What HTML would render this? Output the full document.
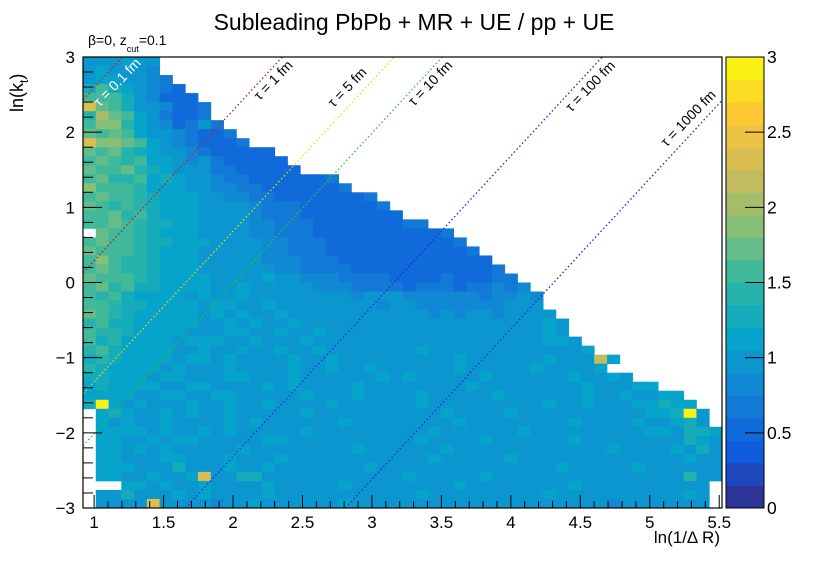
<!DOCTYPE html>
<html><head><meta charset="utf-8"><style>
html,body{margin:0;padding:0;background:#fff;}
svg{display:block;font-family:"Liberation Sans",sans-serif;}
</style></head><body>
<svg id="chart" width="830" height="563" viewBox="0 0 830 563">
<text x="414" y="30" text-anchor="middle" font-size="23">Subleading PbPb + MR + UE / pp + UE</text>
<text x="88" y="45" font-size="14">β=0, z<tspan dy="7" font-size="9">cut</tspan><tspan dy="-7">=0.1</tspan></text>
<text transform="translate(23,112) rotate(-90)" font-size="18">ln(k<tspan dy="5" font-size="12">t</tspan><tspan dy="-5">)</tspan></text>
<text x="720" y="543" text-anchor="end" font-size="17">ln(1/Δ R)</text>
<g id="cells"></g>
<g id="lines"></g>
<g id="axes"></g>
<g id="cbar"></g>
</svg>
<script>
// heatmap rows, top (ln kt = 3) to bottom (ln kt = -3); char index /10 = value; '.' = empty
const codeChars = "0123456789ABCDEFGHIJKLMNOPQRSTU";
const rowCodes = [
"9AAB99",
"AB9A98",
"ACBA987",
"DFDB9876",
"FGFDA8666",
"NHGD998667",
"EKHFB97667",
"GIJEC9867A7",
"HGHFCA987667",
"OIIHFC9876667",
"HFHEDCA98766656",
"GHFEGCB989766665",
"HGGHEDBA9A7766656",
"FHEEFCDBA98776655667",
"IFGFECCBA988776656567",
"GHFGEDCBBA9887766655667",
"HGEFEDCCBA9A987776666567",
"FGHEFDCCBAA99877766665566",
"GFHFEDDCBAA9988777666656677",
".HFGEDCCBAA998877766665666657",
"GHGFEDDCBBA9998877766656666667",
"HGFFEDCCBAA99988777666656666667",
"FIGEEDCBBAAA99888777666665666666",
"GHFEEDCCBAAA999887777666665666667",
"HGGFEDCCBBAA9AB9988877776666766677",
"FHEFDDCBCBAAB9AA9988877776777677878",
"GEFDCCBCABAABAA9A9A99899988888878898",
"FGEDDCCBCABBAAB9AA9A99989988888889A9",
"HFEDCCCBBACABAABAA9A999A9998989989A99",
"EFDDCCBCBAABACAABAA9AA9A99999999A9AAC9",
"GEEDCBBCAAABBAACAABA9AAA99A9999AAA99BA",
"FDECCBBABCBAABAAABAAAAAA9AAAA9AAAAA9BCA",
"EFDCCBCAABAABAACAABAA9AAAABAAAAAA9AAAAAC",
"DEDCBBBACBABAAAACAABAAAA9AAAABAAAAAABAAALC",
"EDCCBCABAAABAAAABAABAACA9AAAABAAAAABAAAAC",
"DDCBBACBAAABBAAACAAAAAABABAA9AABAAAAAABAAC9",
"CDCBBBAACBAAAACABAAAABAAAAA9AABAAAAAAAABAAABC",
"CCBBAACBAABBAAAAABAAABAAAACAAAAABAA9AAABAABAACC",
"DUBACAAABAABAABAAAACAAAAAABAA9AAAAAABAABAAABBDCB",
".BDBAABABAACAAAAACAAAAAA9AAABAAAABAAAAAAAAAACBDUA",
".BABAABAAAACABAAA9AABAAAAAAAACAAAAAAAABAAAABAABDA",
".CBBBABAACABAAAAABAAAAA9AAABAAAAAABAAAAAAAAABBADDB",
".BBAACABBAAAAACBAAAA9AAAAABAAAABAAAAAABAAAA9AAADCA",
".BBACABAAAAABAAAA9AAABAAAAAACAAAAAAA9AAAABAAAACADA",
".BCAAACBAAABAAABAAAA9AAAAAABAAAAABAAAAAA9AAAAAABAAB",
".BCBAAADAAABAACAAAAAAABAAAAAAAAA9AAAACAAAAABAAAAAAC",
".CBAACAABNAADDAAA9AAAAAAABAAAAABAAAAAAAAA9AAAAAEAA",
"...BCABAABAAAABAAAAACAAA9AAAABAAAAAAAABAAAAAAAAAA",
".AADA9ACABAAAABAAAA9AAAAAABAAAAAAAAACAAAAAAAAAABA",
".A9AAO9AAA8AABAAAAAABAAA9AAAAAAAAA9AAAAAA8AAAAAAA"
];
const xTicks = [1,1.5,2,2.5,3,3.5,4,4.5,5,5.5];
const xTickLabels = ["1","1.5","2","2.5","3","3.5","4","4.5","5","5.5"];
const yTicks = [-3,-2,-1,0,1,2,3];
const yTickLabels = ["\u22123","\u22122","\u22121","0","1","2","3"];
const zTicks = [0,0.5,1,1.5,2,2.5,3];
const zTickLabels = ["0","0.5","1","1.5","2","2.5","3"];
const tauValues = [0.1,1,5,10,100,1000];
const tauLabels = ["\u03c4 = 0.1 fm","\u03c4 = 1 fm","\u03c4 = 5 fm","\u03c4 = 10 fm","\u03c4 = 100 fm","\u03c4 = 1000 fm"];

const NS="http://www.w3.org/2000/svg";
const X0=83,X1=722,Y0=57,Y1=508;
const xmin=0.92,xmax=5.52,ymin=-3,ymax=3,nx=50,ny=50,zmax=3;
const sx=v=>X0+(v-xmin)/(xmax-xmin)*(X1-X0);
const sy=v=>Y1-(v-ymin)/(ymax-ymin)*(Y1-Y0);
const stops=[[0,.2082,.1664,.5293],[.125,.0592,.3599,.8684],[.25,.078,.5041,.8385],[.375,.0232,.6419,.7914],[.5,.1802,.7178,.6425],[.625,.5301,.7492,.4662],[.75,.8186,.7328,.3499],[.875,.9956,.7862,.1968],[1,.9764,.9832,.0539]];
function bird(f){f=Math.max(0,Math.min(1,f));for(let i=1;i<stops.length;i++){if(f<=stops[i][0]){const a=stops[i-1],b=stops[i],t=(f-a[0])/(b[0]-a[0]);return "rgb("+[1,2,3].map(k=>Math.round(255*(a[k]+(b[k]-a[k])*t))).join(",")+")";}}return "rgb(249,251,14)";}
const NL=20;
function zcol(v){let l=Math.floor(v/zmax*NL);if(l>=NL)l=NL-1;if(l<0)l=0;return bird((l+0.5)/NL);}
function mk(tag,attrs,parent){const e=document.createElementNS(NS,tag);for(const k in attrs)e.setAttribute(k,attrs[k]);parent.appendChild(e);return e;}
const dx=(xmax-xmin)/nx,dy=(ymax-ymin)/ny;
const cells=document.getElementById('cells');
rowCodes.forEach((row,r)=>{
  for(let c=0;c<row.length&&c<nx;c++){
    const ch=row[c];if(ch===".")continue;
    const v=codeChars.indexOf(ch)/10;
    const xa=sx(xmin+c*dx),xb=sx(xmin+(c+1)*dx),ya=sy(ymax-r*dy),yb=sy(ymax-(r+1)*dy);
    const e=mk('rect',{x:xa.toFixed(2),y:ya.toFixed(2),width:(xb-xa+0.4).toFixed(2),height:(yb-ya+0.4).toFixed(2),fill:zcol(v)},cells);
    
    
  }
});
// formation time lines: ln kt = 2 ln(1/R) + c, c = -1.71 - ln(tau)
const lineColors=["#b22","#b22","#dd1","#2c2","#22e","#22d"];
const labelCenters=[[117,82],[273,80],[347,87],[430,83],[590,86],[688,118]];
const lines=document.getElementById('lines');
tauValues.forEach((t,i)=>{
  const c=-1.71-Math.log(t);
  let xa=xmin,ya=2*xa+c; if(ya<ymin){ya=ymin;xa=(ya-c)/2;}
  let xb=xmax,yb=2*xb+c; if(yb>ymax){yb=ymax;xb=(yb-c)/2;}
  const l=mk('line',{x1:sx(xa),y1:sy(ya),x2:sx(xb),y2:sy(yb),stroke:lineColors[i],'stroke-width':1.3,'stroke-dasharray':'1.5 2.5'},lines);
  
  
  const px=labelCenters[i][0], py=labelCenters[i][1];
  const tx=mk('text',{x:px,y:py+5,'font-size':14,fill:i===0?'#fff':'#000','text-anchor':'middle',transform:`rotate(-46 ${px} ${py})`},lines);
  tx.textContent=tauLabels[i];
  
  
});
// axes
const ax=document.getElementById('axes');
mk('rect',{x:X0,y:Y0,width:X1-X0,height:Y1-Y0,fill:'none',stroke:'#000','stroke-width':1.2},ax);
xTicks.forEach((v,i)=>{
  const x=sx(v);
  mk('line',{x1:x,y1:Y1,x2:x,y2:Y1-13,stroke:'#000'},ax);
  const t=mk('text',{x:x,y:Y1+20,'text-anchor':'middle','font-size':17},ax);t.textContent=xTickLabels[i];
  
  
  if(i<xTicks.length-1){for(let k=1;k<5;k++){const xm=sx(v+k*0.1);mk('line',{x1:xm,y1:Y1,x2:xm,y2:Y1-7,stroke:'#000'},ax);}}
});
yTicks.forEach((v,i)=>{
  const y=sy(v);
  mk('line',{x1:X0,y1:y,x2:X0+19,y2:y,stroke:'#000'},ax);
  const t=mk('text',{x:X0-8,y:y+6,'text-anchor':'end','font-size':17},ax);t.textContent=yTickLabels[i];
  
  
  if(i<yTicks.length-1){for(let k=1;k<5;k++){const ym=sy(v+k*0.2);mk('line',{x1:X0,y1:ym,x2:X0+10,y2:ym,stroke:'#000'},ax);}}
});
// color bar
const cb=document.getElementById('cbar');
const CX0=726,CX1=764;
for(let l=0;l<NL;l++){
  const ya=Y1-(l+1)/NL*(Y1-Y0),yb=Y1-l/NL*(Y1-Y0);
  const r=mk('rect',{x:CX0,y:ya,width:CX1-CX0,height:yb-ya+0.5,fill:bird((l+0.5)/NL)},cb);
  
  
}
mk('rect',{x:CX0,y:Y0,width:CX1-CX0,height:Y1-Y0,fill:'none',stroke:'#000','stroke-width':1},cb);
zTicks.forEach((v,i)=>{
  const y=Y1-v/zmax*(Y1-Y0);
  mk('line',{x1:CX1,y1:y,x2:CX1-19,y2:y,stroke:'#000'},cb);
  const t=mk('text',{x:CX1+3,y:y+6,'font-size':17.5},cb);t.textContent=zTickLabels[i];
  
  
});
</script>
</body></html>
